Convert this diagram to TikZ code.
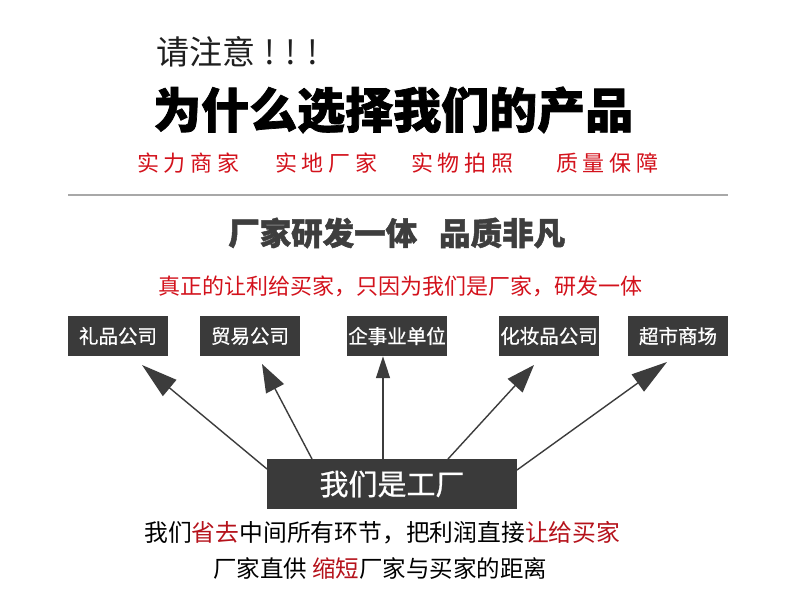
\documentclass[tikz,border=0pt]{standalone}
\usepackage{fontspec}
\newfontfamily\cjk{Noto Sans CJK SC}
\newfontfamily\cjkmed{Noto Sans CJK SC}[FakeBold=0.7]
\newfontfamily\cjkbf{Noto Sans CJK SC}[BoldFeatures={FakeBold=1.5}]
\usetikzlibrary{arrows.meta}
\definecolor{boxgray}{HTML}{3A3A3A}
\definecolor{arrgray}{HTML}{3C3C3C}
\definecolor{linegray}{HTML}{A8A8A8}
\definecolor{redA}{HTML}{D3121C}
\definecolor{redB}{HTML}{B5121B}
\definecolor{darktxt}{HTML}{3E3E3E}
\begin{document}
\begin{tikzpicture}[x=1pt,y=-1pt,
  txt/.style={inner sep=0pt, anchor=west},
  catbox/.style={fill=boxgray, text=white, minimum width=100pt, minimum height=40pt, inner sep=0pt, font=\cjkmed\fontsize{19.5}{20}\selectfont},
  factbox/.style={fill=boxgray, text=white, minimum width=250pt, minimum height=50pt, inner sep=0pt, font=\cjkmed\fontsize{29}{30}\selectfont},
  arrbig/.style={draw=arrgray, line width=1.4pt, -{Triangle[length=36pt,width=21pt]}},
  arrmid/.style={draw=arrgray, line width=1.4pt, -{Triangle[length=28pt,width=20pt]}},
  arrsmall/.style={draw=arrgray, line width=1.4pt, -{Triangle[length=22pt,width=14pt]}}
]
\useasboundingbox (0,0) rectangle (790,599);
\fill[white] (0,0) rectangle (790,599);

% header
\node[txt, text=black!88, font=\cjk\fontsize{33}{33}\selectfont] (att) at (156,52) {请注意\hspace{9pt}!\hspace{11pt}!\hspace{11pt}!};
\node[txt, text=black, font=\cjkbf\bfseries\fontsize{48}{48}\selectfont] (title) at (153,110) {为什么选择我们的产品};

\node[txt, text=redA, font=\cjk\fontsize{22}{22}\selectfont] (t1) at (137,163) {实\hspace{4.7pt}力\hspace{4.7pt}商\hspace{4.7pt}家};
\node[txt, text=redA, font=\cjk\fontsize{22}{22}\selectfont] (t2) at (275,163) {实\hspace{4.7pt}地\hspace{4.7pt}厂\hspace{4.7pt}家};
\node[txt, text=redA, font=\cjk\fontsize{22}{22}\selectfont] (t3) at (411,163) {实\hspace{4.7pt}物\hspace{4.7pt}拍\hspace{4.7pt}照};
\node[txt, text=redA, font=\cjk\fontsize{22}{22}\selectfont] (t4) at (556,163) {质\hspace{4.7pt}量\hspace{4.7pt}保\hspace{4.7pt}障};

\coordinate (l1) at (68,195);
\coordinate (l2) at (728,195);
\draw[linegray, line width=2.2pt] (l1) -- (l2);

\node[txt, text=darktxt, font=\cjkbf\bfseries\fontsize{31.5}{32}\selectfont] (sub) at (228,233) {厂家研发一体\hspace{22pt}品质非凡};
\node[txt, text=redA, font=\cjk\fontsize{22}{22}\selectfont] (red2) at (158,286) {真正的让利给买家，只因为我们是厂家，研发一体};

% boxes
\node[catbox] (b1) at (118,336) {礼品公司};
\node[catbox] (b2) at (250,336) {贸易公司};
\node[catbox] (b3) at (397,336) {企事业单位};
\node[catbox] (b4) at (549,336) {化妆品公司};
\node[catbox] (b5) at (678,336) {超市商场};

\node[factbox] (f) at (392,484) {我们是工厂};

% arrows
\coordinate (s1) at (267,469);
\coordinate (s2) at (312,459);
\coordinate (s3) at (383,459);
\coordinate (s4) at (448,459);
\coordinate (s5) at (517,470);
\coordinate (e1) at (142,365);
\coordinate (e2) at (262,364);
\coordinate (e4) at (534,365);
\coordinate (e5) at (667,362);
\draw[arrbig] (s1) -- (e1);
\draw[arrmid] (s2) -- (e2);
\draw[arrsmall] (s3) -- (s3 |- b3.south);
\draw[arrmid] (s4) -- (e4);
\draw[arrbig] (s5) -- (e5);

% bottom text
\node[txt, text=black, font=\cjk\fontsize{23.8}{24}\selectfont] (bt1) at (144,533) {我们\textcolor{redB}{省去}中间所有环节，把利润直接\textcolor{redB}{让给买家}};
\node[txt, text=black, font=\cjk\fontsize{23.5}{24}\selectfont] (bt2) at (213,569) {厂家直供 \textcolor{redB}{缩短}厂家与买家的距离};
\end{tikzpicture}
\end{document}
